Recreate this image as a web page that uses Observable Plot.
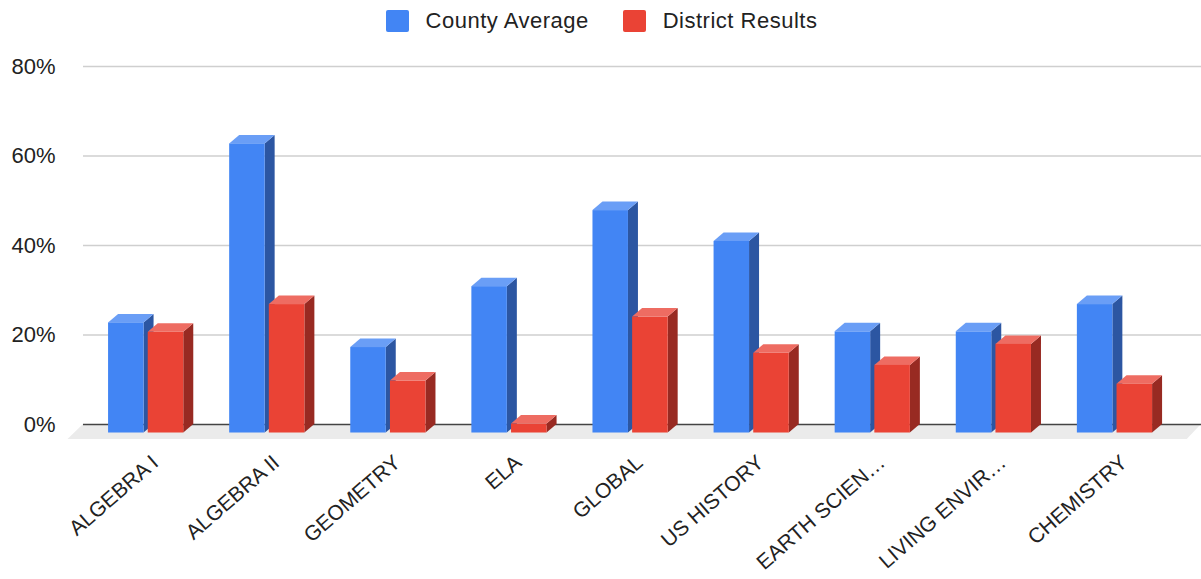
<!DOCTYPE html>
<html><head><meta charset="utf-8">
<script src="https://cdn.jsdelivr.net/npm/d3@7"></script>
<script src="https://cdn.jsdelivr.net/npm/@observablehq/plot@0.6"></script>
<style>
body{margin:0;background:#fff;font-family:"Liberation Sans",Arial,sans-serif;}
#legend{height:40px;display:flex;justify-content:center;align-items:flex-start;padding-left:2px;box-sizing:border-box;}
.item{display:flex;align-items:center;margin-top:10px;}
.item + .item{margin-left:34px;}
.sw{width:23px;height:22px;border-radius:2px;margin-right:17px;}
.lbl{font-size:22px;color:#222;letter-spacing:0.5px;line-height:22px;}
#chart svg{overflow:visible;display:block;}
</style></head><body>
<div id="legend"></div><div id="chart"></div>
<script>
// ---- data ----
const categories = ["ALGEBRA I","ALGEBRA II","GEOMETRY","ELA","GLOBAL","US HISTORY","EARTH SCIEN\u2026","LIVING ENVIR\u2026","CHEMISTRY"];
const seriesNames = ["County Average","District Results"];
const countyAverage = [24.6, 64.6, 19.1, 32.7, 49.7, 42.8, 22.6, 22.6, 28.7];
const districtResults = [22.5, 28.7, 11.6, 2.0, 25.9, 17.8, 15.1, 19.8, 10.9];
const yTicks = [0, 20, 40, 60, 80];

// ---- styles ----
const front = ["#4285f4", "#ea4335"];
const side  = ["#2c56a2", "#982a22"];
const top_  = ["#6a9ef6", "#ee6c62"];

// legend
const lg = document.getElementById("legend");
seriesNames.forEach((n, k) => {
  const it = document.createElement("div"); it.className = "item";
  it.innerHTML = `<div class="sw" style="background:${front[k]}"></div><div class="lbl">${n}</div>`;
  lg.appendChild(it);
});

// layout constants (in scale units)
const XMIN = -0.518, XMAX = 8.714;
const DX = 10 / 121.1;   // depth along x
const DY = 1.9;          // depth along y
const slots = [[-0.311, -0.018], [0.0165, 0.31]];

const bars = [];
categories.forEach((c, i) => {
  [countyAverage[i], districtResults[i]].forEach((v, s) => {
    bars.push({id: `${i}-${s}`, s, x1: i + slots[s][0], x2: i + slots[s][1], v});
  });
});
const sides = [], tops = [];
bars.forEach(b => {
  sides.push({id: b.id, s: b.s, x: b.x2, y1: -DY, y2: b.v - DY});
  sides.push({id: b.id, s: b.s, x: b.x2 + DX, y1: 0, y2: b.v});
  tops.push({id: b.id, s: b.s, y: b.v - DY, x1: b.x1, x2: b.x2});
  tops.push({id: b.id, s: b.s, y: b.v, x1: b.x1 + DX, x2: b.x2 + DX});
});
const floor = [
  {y: 0, x1: XMIN, x2: XMAX},
  {y: -3.35, x1: XMIN - 0.128, x2: XMAX - 0.118}
];

const barMarks = [];
[0, 1].forEach(s => {
  barMarks.push(Plot.areaY(sides.filter(d => d.s === s), {x: "x", y1: "y1", y2: "y2", z: "id", fill: side[s]}));
  barMarks.push(Plot.areaX(tops.filter(d => d.s === s), {y: "y", x1: "x1", x2: "x2", z: "id", fill: top_[s]}));
  barMarks.push(Plot.rect(bars.filter(d => d.s === s), {x1: "x1", x2: "x2", y1: -DY, y2: d => d.v - DY, fill: front[s]}));
});

const chart = Plot.plot({
  width: 1201,
  height: 539,
  marginTop: 26,
  marginBottom: 155,
  marginLeft: 83,
  marginRight: 0,
  style: {fontFamily: '"Liberation Sans", Arial, sans-serif', fontSize: "22px", color: "#222", background: "transparent"},
  x: {type: "linear", domain: [XMIN, XMAX], axis: null},
  y: {domain: [0, 80], axis: null},
  marks: [
    Plot.areaX(floor, {y: "y", x1: "x1", x2: "x2", fill: "#ebebeb"}),
    Plot.ruleY(yTicks.filter(d => d > 0), {stroke: "#cfcfcf", strokeWidth: 1.5}),
    Plot.ruleY([0], {stroke: "#444", strokeWidth: 1.6}),
    ...barMarks,
    Plot.text(categories, {x: (d, i) => i, frameAnchor: "bottom", text: d => d, rotate: -41,
      textAnchor: "end", lineAnchor: "middle", dx: 9, dy: 35, fontSize: 21, fill: "#222"}),
    Plot.axisY(yTicks, {tickSize: 0, tickPadding: 28, tickFormat: d => d + "%", fontSize: 22, fill: "#222"})
  ]
});
document.getElementById("chart").appendChild(chart);
</script></body></html>
